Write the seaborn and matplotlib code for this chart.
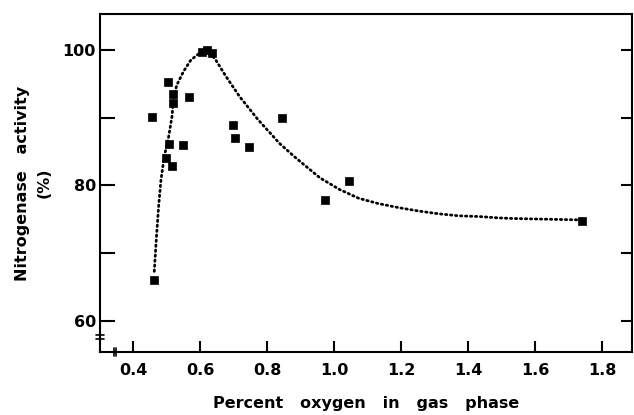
import numpy as np
import pandas as pd
import matplotlib
matplotlib.use("Agg")
import matplotlib.pyplot as plt
import matplotlib.transforms as mtransforms
import seaborn as sns

# measured points
oxygen = [0.456, 0.461, 0.503, 0.520, 0.520, 0.508, 0.498, 0.516, 0.548, 0.567,
          0.605, 0.621, 0.635, 0.697, 0.705, 0.745, 0.844, 0.973, 1.045, 1.739]
activity = [90.1, 66.0, 95.2, 93.5, 92.2, 86.1, 84.1, 82.9, 85.9, 93.0,
            99.7, 100.0, 99.5, 88.9, 87.0, 85.7, 90.0, 77.9, 80.6, 74.8]

# dotted fitted curve
curve_x = [0.463, 0.469, 0.476, 0.483, 0.493, 0.506, 0.516, 0.520, 0.530, 0.550,
           0.572, 0.597, 0.622, 0.647, 0.677, 0.718, 0.773, 0.837, 0.887, 0.958,
           1.016, 1.073, 1.133, 1.194, 1.254, 1.313, 1.373, 1.433, 1.490, 1.540,
           1.640, 1.739]
curve_y = [67.3, 72.0, 76.9, 80.8, 84.3, 87.2, 90.2, 92.6, 94.8, 96.8,
           98.5, 99.5, 100.0, 98.5, 96.1, 93.1, 89.7, 86.2, 84.0, 81.1,
           79.4, 78.1, 77.3, 76.7, 76.2, 75.8, 75.5, 75.4, 75.2, 75.1,
           75.0, 74.9]

y_major = [60, 80, 100]
y_minor = [70, 90]
x_ticks = [0.4, 0.6, 0.8, 1.0, 1.2, 1.4, 1.6, 1.8]

sns.set_style("ticks")
plt.rcParams['font.family'] = ['DejaVu Sans']
plt.rcParams['font.weight'] = 'bold'
plt.rcParams['text.color'] = 'black'
plt.rcParams['axes.labelcolor'] = 'black'

fig = plt.figure(figsize=(6.34, 4.15), dpi=100)
ax = fig.add_axes([0.158, 0.152, 0.839, 0.814])

pts = pd.DataFrame({"x": oxygen, "y": activity})
fit = pd.DataFrame({"x": curve_x, "y": curve_y})

sns.lineplot(data=fit, x="x", y="y", sort=False, color="black",
             linestyle=(0, (0.5, 1.3)), linewidth=2.0, ax=ax)
ax.lines[-1].set_dash_capstyle("round")
sns.scatterplot(data=pts, x="x", y="y", marker="s", s=36, color="black",
                edgecolor="black", linewidth=0.5, ax=ax, zorder=3)

ax.set_xlim(0.3015, 1.8896)
ax.set_ylim(55.4, 105.3)

ax.set_xticks(x_ticks)
ax.set_xticklabels([f"{v:.1f}" for v in x_ticks])
ax.set_yticks(y_major)
ax.set_yticks(y_minor, minor=True)
ax.tick_params(axis="both", which="both", direction="in", width=1.5, colors="black",
               labelsize=11.5)
ax.tick_params(axis="y", which="both", length=11, right=True, pad=3)
ax.tick_params(axis="x", length=8, pad=8)
for lab in ax.get_xticklabels() + ax.get_yticklabels():
    lab.set_fontweight("bold")

# right side ticks have no labels and are shorter
for t in ax.yaxis.get_major_ticks() + ax.yaxis.get_minor_ticks():
    t.tick2line.set_markersize(8)

for sp in ax.spines.values():
    sp.set_linewidth(1.5)
    sp.set_color("black")

# axis break marks
trans_y = mtransforms.blended_transform_factory(ax.transAxes, ax.transData)
for dy in (-0.3, 0.3):
    ax.plot([-0.008, 0.008], [57.6 + dy, 57.6 + dy], transform=trans_y,
            color="black", lw=1.2, clip_on=False)
trans_x = mtransforms.blended_transform_factory(ax.transData, ax.transAxes)
for dx in (-0.004, 0.004):
    ax.plot([0.346 + dx, 0.346 + dx], [-0.012, 0.012], transform=trans_x,
            color="black", lw=1.2, clip_on=False)

ax.set_xlabel("Percent   oxygen   in   gas   phase", fontsize=11.5,
              fontweight="bold", labelpad=13, color="black")
ax.set_ylabel("Nitrogenase   activity\n(%)", fontsize=11.5, fontweight="bold",
              labelpad=8, linespacing=1.55, color="black")

fig.savefig("out.png", dpi=100)
